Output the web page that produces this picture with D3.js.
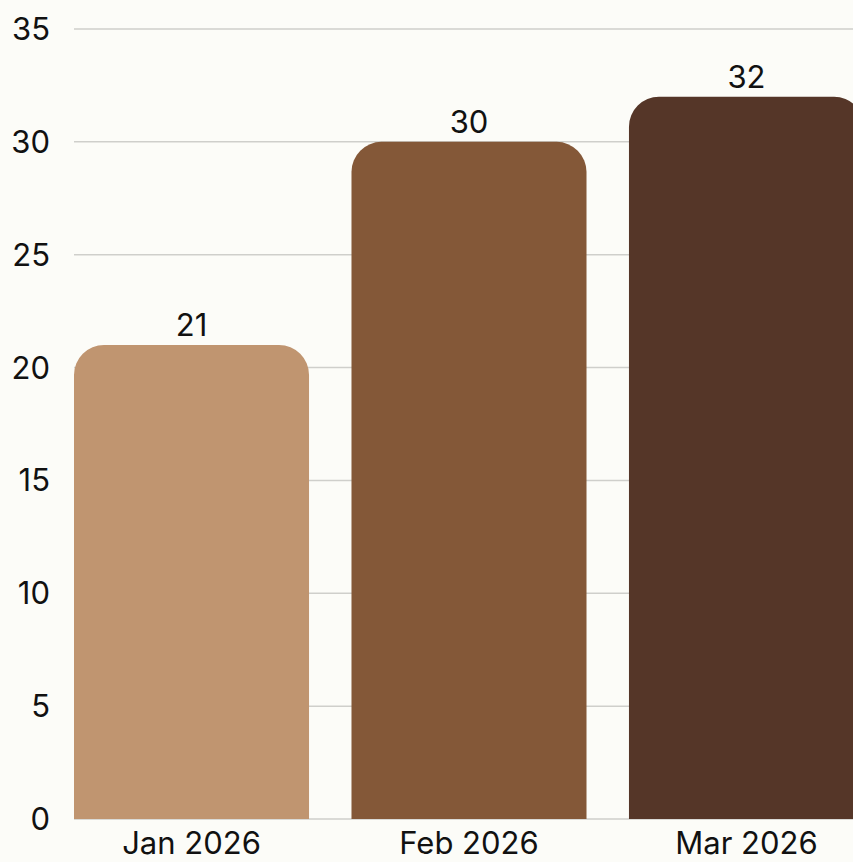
<!DOCTYPE html>
<html><head><meta charset="utf-8">
<script src="https://cdn.jsdelivr.net/npm/d3@7"></script>
<style>
html,body{margin:0;padding:0;background:#fcfcf8;}
svg{display:block;}
text{font-family:"Inter","Noto Sans",sans-serif;fill:#111;}
</style></head>
<body><svg id="chart" width="853" height="862"></svg>
<script>
const categories = ["Jan 2026", "Feb 2026", "Mar 2026"];
const values = [21, 30, 32];
const colors = ["#c09570", "#845838", "#553628"];
const yTicks = [0, 5, 10, 15, 20, 25, 30, 35];

(function () {
const svg = d3.select("#chart");
const W = 853, H = 862;
const mLeft = 74, mBottom = 819, mTop = 29;
const fs = 31;

const x = d3.scaleBand().domain(categories).range([mLeft, 864]).paddingInner(0.153).paddingOuter(0);
const y = d3.scaleLinear().domain([0, 35]).range([mBottom, mTop]);

svg.append("rect").attr("width", W).attr("height", H).attr("fill", "#fcfcf8");

svg.append("g").selectAll("line").data(yTicks).join("line")
  .attr("x1", mLeft).attr("x2", W)
  .attr("y1", d => y(d)).attr("y2", d => y(d))
  .attr("stroke", "#cfcfcb").attr("stroke-width", 1.5);

svg.append("g").selectAll("text").data(yTicks).join("text")
  .attr("x", 50).attr("y", d => y(d) + 11)
  .attr("text-anchor", "end")
  .attr("font-size", fs)
  .text(d => d);

const r = 30;
function barPath(x0, w, yTop, yBot) {
  const rr = Math.min(r, w / 2, yBot - yTop);
  return `M${x0},${yBot}V${yTop + rr}A${rr},${rr} 0 0 1 ${x0 + rr},${yTop}H${x0 + w - rr}A${rr},${rr} 0 0 1 ${x0 + w},${yTop + rr}V${yBot}Z`;
}

svg.append("g").selectAll("path").data(categories).join("path")
  .attr("d", (c, i) => barPath(x(c), x.bandwidth(), y(values[i]), y(0)))
  .attr("fill", (c, i) => colors[i]);

svg.append("g").selectAll("text").data(categories).join("text")
  .attr("x", c => x(c) + x.bandwidth() / 2)
  .attr("y", (c, i) => y(values[i]) - 9)
  .attr("text-anchor", "middle")
  .attr("font-size", fs)
  .text((c, i) => values[i]);

svg.append("g").selectAll("text").data(categories).join("text")
  .attr("x", c => x(c) + x.bandwidth() / 2)
  .attr("y", 854)
  .attr("text-anchor", "middle")
  .attr("font-size", fs)
  .text(c => c);
})();
</script></body></html>
